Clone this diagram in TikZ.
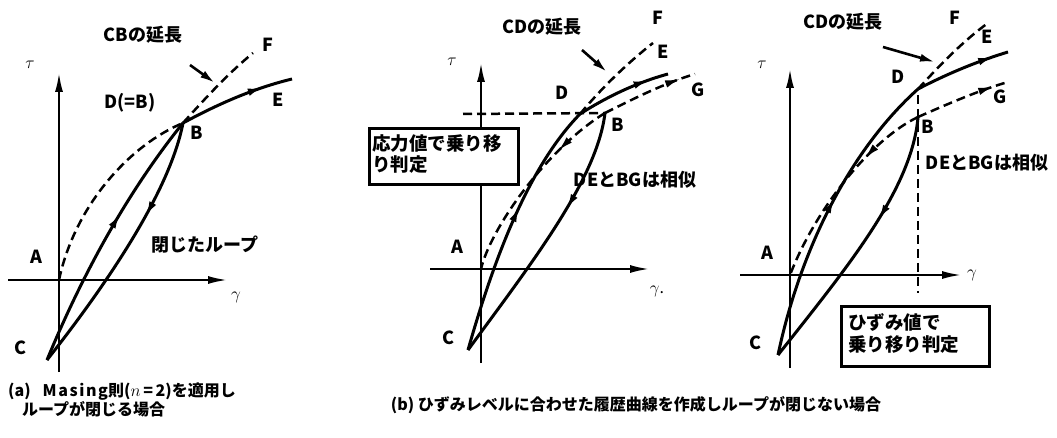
\documentclass[tikz,border=0pt]{standalone}
\usepackage{fontspec}
\setmainfont{Noto Sans CJK JP}
\usetikzlibrary{arrows.meta,decorations.markings}
\tikzset{
  axis/.style={line width=2.5pt,-{Latex[length=20pt,width=8pt]}},
  curve/.style={line width=3pt},
  skel/.style={line width=2.5pt,dash pattern=on 9pt off 5pt},
  midarrow/.style={postaction={decorate},decoration={markings,
    mark=at position #1 with {\arrow{Latex[length=16pt,width=7.5pt]}}}},
  pointer/.style={line width=2.6pt,-{Latex[length=15pt,width=8pt]}},
  lbl/.style={font=\fontsize{18}{20}\selectfont\bfseries,inner sep=0pt},
  greek/.style={font=\fontsize{16}{18}\selectfont,inner sep=0pt},
  judgebox/.style={draw,line width=2.8pt,fill=white,inner sep=0pt},
  captxt/.style={font=\fontsize{16}{19}\selectfont\bfseries,inner sep=0pt}
}
\begin{document}
\begin{tikzpicture}[x=1pt,y=-1pt]
  \useasboundingbox (0,0) rectangle (1057,438);
  % (a) closed loop
  \coordinate (aA) at (59,280); \coordinate (aB) at (183,123); \coordinate (aC) at (47,360);
  \coordinate (aE) at (292,79); \coordinate (aF) at (253,53);
  \coordinate (aP) at (190,65); \coordinate (aQ) at (215,83);
  \draw[axis] (8,280) -- (228,280); \draw[axis] (59,372) -- (59,72);
  \draw[skel] (aA) .. controls (75,205) and (130,145) .. (aB);
  \draw[skel] (aB) .. controls (210,93) and (230,72) .. (aF);
  \draw[curve,midarrow=0.6] (aC) .. controls (80,280) and (125,195) .. (aB);
  \draw[curve,midarrow=0.37] (aB) .. controls (170,190) and (110,280) .. (aC);
  \draw[curve,midarrow=0.75] (aB) .. controls (220,103) and (255,88) .. (aE);
  \draw[pointer] (aP) -- (aQ);
  \node[lbl] (aext) at (143,35) {CBの延長}; \node[lbl] (aFl) at (268,45) {F};
  \node[greek] (atau) at (30,65) {$\tau$}; \node[lbl] (aDl) at (130,103) {D(=B)};
  \node[lbl] (aEl) at (278,100) {E}; \node[lbl] (aBl) at (197,133) {B};
  \node[lbl] (aloop) at (205,245) {閉じたループ}; \node[lbl] (aAl) at (36,257) {A};
  \node[greek] (agam) at (236,297) {$\gamma$}; \node[lbl] (aCl) at (21,348) {C};
  \node[captxt,anchor=north west,align=left] (acap) at (8,383)
    {(a)\hspace{12pt}{\addfontfeature{LetterSpace=10}Masing}則($n$\,=\,2)を適用し\\\hspace{14pt}ループが閉じる場合};
  % (b) switch by stress
  \coordinate (bA) at (481,269); \coordinate (bB) at (605,113); \coordinate (bC) at (468,350);
  \coordinate (bD) at (580,114); \coordinate (bE) at (668,74); \coordinate (bF) at (653,43);
  \coordinate (bG) at (695,74); \coordinate (bH) at (463,114);
  \coordinate (bP) at (582,50); \coordinate (bQ) at (607,72);
  \draw[axis] (430,269) -- (650,269); \draw[axis] (481,363) -- (481,62);
  \draw[skel] (bH) -- (bB);
  \draw[skel,midarrow=0.3] (bB) .. controls (545,150) and (490,230) .. (bA);
  \draw[skel,midarrow=0.85] (bB) .. controls (635,98) and (665,83) .. (bG);
  \draw[skel] (bD) .. controls (600,90) and (625,65) .. (bF);
  \draw[curve,midarrow=0.58] (bC) .. controls (495,255) and (530,165) .. (bD);
  \draw[curve,midarrow=0.8] (bD) .. controls (605,98) and (635,83) .. (bE);
  \draw[curve,midarrow=0.38] (bB) .. controls (597,180) and (530,265) .. (bC);
  \draw[pointer] (bP) -- (bQ);
  \node[judgebox,minimum width=149pt,minimum height=56pt,anchor=north west] (bbox) at (368,127) {};
  \node[lbl,anchor=north west,align=left,font=\fontsize{18.5}{21}\selectfont\bfseries] (btxt) at (372,134)
    {応力値で乗り移\\り判定};
  \node[lbl] (bext) at (542,27) {CDの延長}; \node[lbl] (bFl) at (658,18) {F};
  \node[lbl] (bEl) at (663,52) {E}; \node[greek] (btau) at (452,62) {$\tau$};
  \node[lbl] (bDl) at (562,93) {D}; \node[lbl] (bGl) at (698,90) {G};
  \node[lbl] (bBl) at (618,125) {B}; \node[lbl] (bsim) at (635,180) {DEとBGは相似};
  \node[lbl] (bAl) at (457,247) {A}; \node[greek] (bgam) at (657,291) {$\gamma$.};
  \node[lbl] (bCl) at (448,338) {C};
  \node[captxt] (bcap) at (636,405) {(b) ひずみレベルに合わせた履歴曲線を作成しループが閉じない場合};
  % (c) switch by strain
  \coordinate (cA) at (790,275); \coordinate (cB) at (918,117); \coordinate (cC) at (778,355);
  \coordinate (cD) at (918,89); \coordinate (cE) at (1008,52); \coordinate (cF) at (988,23);
  \coordinate (cG) at (1008,82); \coordinate (cV) at (918,293);
  \coordinate (cP) at (883,47); \coordinate (cQ) at (935,62);
  \draw[axis] (740,275) -- (962,275); \draw[axis] (790,368) -- (790,68);
  \draw[line width=2pt,dash pattern=on 9pt off 5pt] ([yshift=-6pt]cD) -- (cV);
  \draw[skel,midarrow=0.33] (cB) .. controls (870,140) and (815,210) .. (cA);
  \draw[skel,midarrow=0.85] (cB) .. controls (950,103) and (980,90) .. (cG);
  \draw[skel] (cD) .. controls (940,65) and (962,42) .. (cF);
  \draw[curve,midarrow=0.55] (cC) .. controls (800,250) and (850,150) .. (cD);
  \draw[curve,midarrow=0.85] (cD) .. controls (945,75) and (975,62) .. (cE);
  \draw[curve,midarrow=0.4] (cB) .. controls (912,190) and (845,270) .. (cC);
  \draw[pointer] (cP) -- (cQ);
  \node[judgebox,minimum width=148pt,minimum height=60pt,anchor=north west] (cbox) at (840,305) {};
  \node[lbl,anchor=north west,align=left,font=\fontsize{18.5}{22}\selectfont\bfseries] (ctxt) at (848,313)
    {ひずみ値で\\乗り移り判定};
  \node[lbl] (cext) at (843,22) {CDの延長}; \node[lbl] (cFl) at (955,18) {F};
  \node[lbl] (cEl) at (987,37) {E}; \node[greek] (ctau) at (762,65) {$\tau$};
  \node[lbl] (cDl) at (898,77) {D}; \node[lbl] (cGl) at (1000,97) {G};
  \node[lbl] (cBl) at (928,127) {B}; \node[lbl] (csim) at (987,163) {DEとBGは相似};
  \node[lbl] (cAl) at (767,253) {A}; \node[greek] (cgam) at (972,275) {$\gamma$};
  \node[lbl] (cCl) at (755,343) {C};
\end{tikzpicture}
\end{document}
